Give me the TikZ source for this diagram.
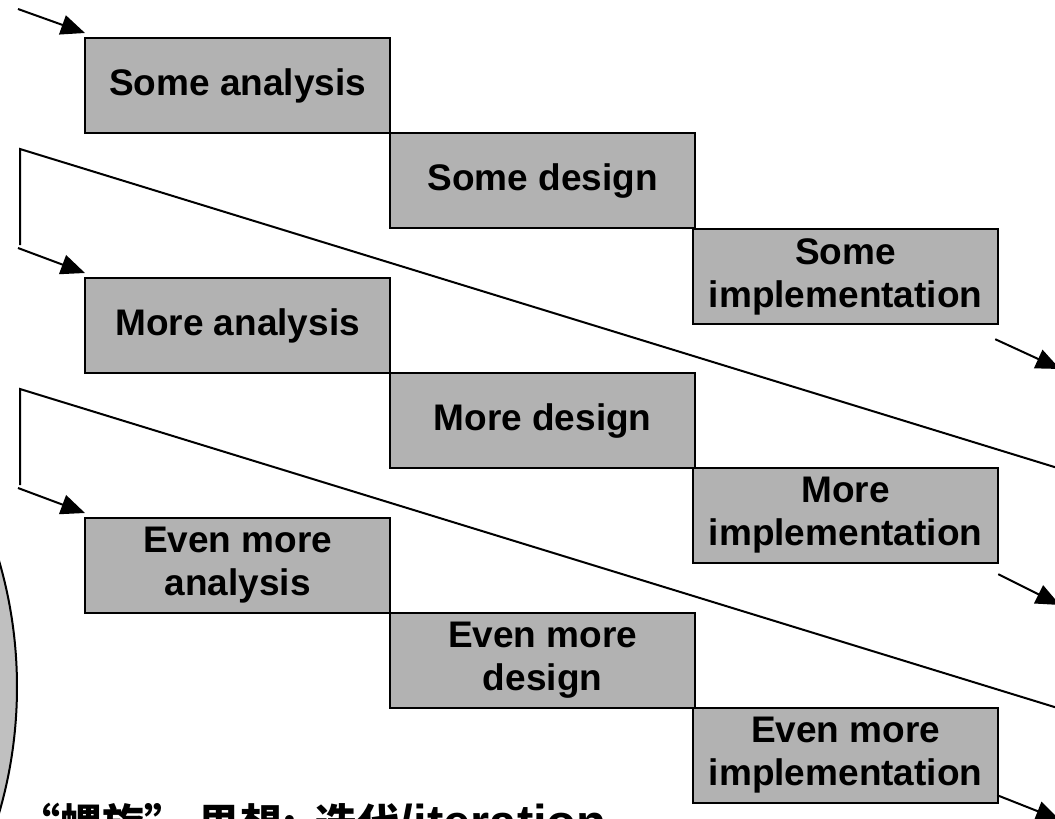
\documentclass[tikz,border=0pt]{standalone}
\usepackage{fontspec}
\setmainfont{Liberation Sans}
\newfontfamily\cjk{Noto Sans CJK SC}
\usetikzlibrary{arrows.meta,calc}

\tikzset{
  phase/.style={draw=black, line width=2.2pt, fill=boxgray, anchor=north west,
    minimum width=305pt, minimum height=95pt, inner sep=0pt, align=center,
    font=\fontsize{37}{43}\selectfont\bfseries},
  link/.style={draw=black, line width=2pt},
  arr/.style={link, -{Triangle[length=24pt,width=20pt]}},
}
\definecolor{boxgray}{HTML}{B2B2B2}
\definecolor{discgray}{HTML}{C0C0C0}

\begin{document}
\begin{tikzpicture}[x=1pt, y=-1pt]
  \useasboundingbox (0,0) rectangle (1055,819);
  \clip (0,0) rectangle (1055,819);

  % disc peeking in from the left edge
  \draw[line width=2pt, fill=discgray] (-433,687) circle [radius=450pt];

  % first pass
  \node[phase] (A1) at (84,37)  {Some analysis};
  \node[phase] (D1) at (389,132) {Some design};
  \node[phase] (I1) at (692,228) {Some\\implementation};
  % second pass
  \node[phase] (A2) at (84,277)  {More analysis};
  \node[phase] (D2) at (389,372) {More design};
  \node[phase] (I2) at (692,467) {More\\implementation};
  % third pass
  \node[phase] (A3) at (84,517)  {Even more\\analysis};
  \node[phase] (D3) at (389,612) {Even more\\design};
  \node[phase] (I3) at (692,707) {Even more\\implementation};

  % entry arrow
  \coordinate (in0) at (18,9);
  \draw[arr] (in0) -- ([shift={(1,-4)}]A1.north west);

  % loop back from the first pass
  \coordinate (far1) at (1100,481);
  \coordinate (top1) at (20,149);
  \coordinate (bot1) at (20,245);
  \coordinate (in1) at (18,248);
  \draw[link, line join=miter] (far1) -- (top1) -- (bot1);
  \draw[arr] (in1) -- ([shift={(1,-4)}]A2.north west);

  % loop back from the second pass
  \coordinate (far2) at (1100,721);
  \coordinate (top2) at (20,389);
  \coordinate (bot2) at (20,485);
  \coordinate (in2) at (18,488);
  \draw[link, line join=miter] (far2) -- (top2) -- (bot2);
  \draw[arr] (in2) -- ([shift={(1,-4)}]A3.north west);

  % exits after each implementation
  \coordinate (out1) at (1060,369);
  \coordinate (out2) at (1060,605);
  \coordinate (out3) at (1060,820);
  \draw[arr] ([shift={(-4,14)}]I1.south east) -- (out1);
  \draw[arr] ([shift={(-1,10)}]I2.south east) -- (out2);
  \draw[arr] ([shift={(-2,-9)}]I3.south east) -- (out3);

  % caption along the bottom edge
  \node[anchor=base west, inner sep=0pt] (cap) at (18,839)
    {\cjk\bfseries\fontsize{42}{48}\selectfont “螺旋”\hspace{12pt}思想:\hspace{19pt}迭代{\rmfamily\bfseries\fontsize{49}{52}\selectfont/iteration}};
\end{tikzpicture}
\end{document}
